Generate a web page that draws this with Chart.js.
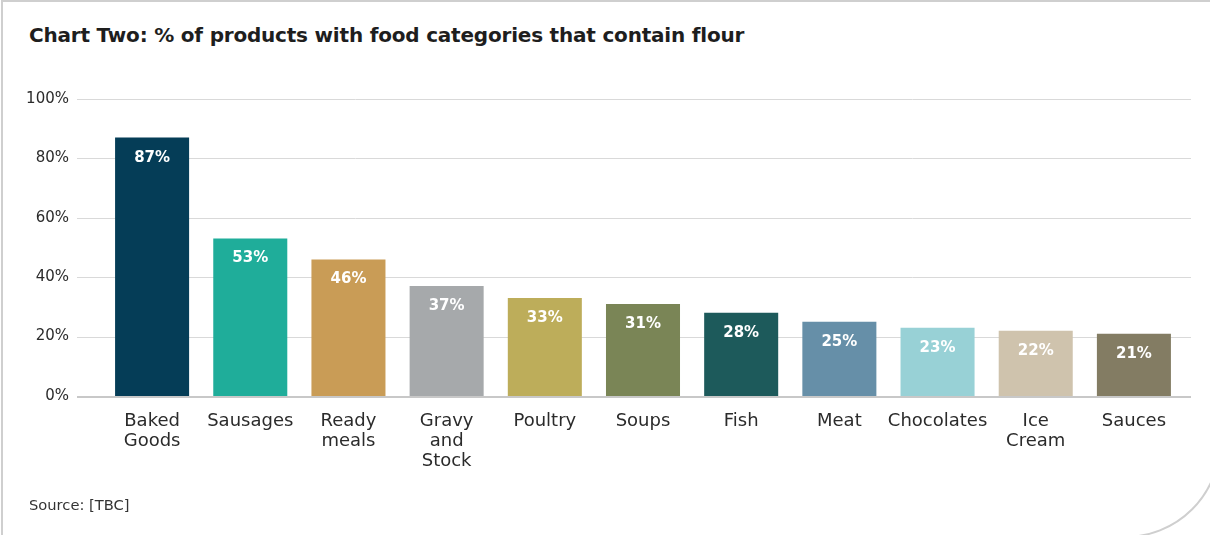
<!DOCTYPE html>
<html>
<head>
<meta charset="utf-8">
<script src="https://cdn.jsdelivr.net/npm/chart.js@4"></script>
<style>
  html, body { margin: 0; padding: 0; background: #fff; overflow: hidden; }
  .page { width: 1210px; height: 535px; position: relative; overflow: hidden; font-family: "DejaVu Sans", sans-serif; }
  .card {
    position: absolute; left: 1px; top: 0; width: 1220px; height: 538px;
    border: 2px solid #cfcfcf; border-radius: 0 0 96px 0; box-sizing: border-box;
  }
  h1 {
    position: absolute; left: 29px; top: 23px; margin: 0;
    font-size: 20px; font-weight: 700; color: #1e1e1e; letter-spacing: -0.2px;
  }
  .source { position: absolute; left: 29px; top: 496px; font-size: 14.7px; color: #333; }
  #wrap { position: absolute; left: 0; top: 0; width: 1210px; height: 535px; }
</style>
</head>
<body>
<div class="page">
  <div class="card"></div>
  <h1>Chart Two: % of products with food categories that contain flour</h1>
  <div id="wrap"><canvas id="chart"></canvas></div>
  <div class="source">Source: [TBC]</div>
</div>
<script>
const categories = [
  ["Baked", "Goods"], "Sausages", ["Ready", "meals"], ["Gravy", "and", "Stock"], "Poultry",
  "Soups", "Fish", "Meat", "Chocolates", ["Ice", "Cream"], "Sauces"
]
const shares = [87, 53, 46, 37, 33, 31, 28, 25, 23, 22, 21]
const barColors = [
  "#053d57", "#1fad9a", "#c99c56", "#a6a9ab", "#bdad5a", "#7a8556",
  "#1d5a5b", "#668fa8", "#98d1d6", "#cfc3ad", "#837c63"
]
const yTicks = [0, 20, 40, 60, 80, 100]

const fontFamily = "'DejaVu Sans', sans-serif"

// horizontal gridlines run a little past the bars on both sides
const gridLines = {
  id: "gridLines",
  beforeDatasetsDraw(chart) {
    const { ctx, scales: { y } } = chart
    ctx.save()
    yTicks.forEach((v) => {
      const py = Math.round(y.getPixelForValue(v))
      ctx.beginPath()
      if (v === 0) {
        ctx.strokeStyle = "#c8c8c8"
        ctx.lineWidth = 2
        ctx.moveTo(77, py + 1)
        ctx.lineTo(1191, py + 1)
      } else {
        ctx.strokeStyle = "#d9d9d9"
        ctx.lineWidth = 1
        ctx.moveTo(77, py + 0.5)
        ctx.lineTo(1191, py + 0.5)
      }
      ctx.stroke()
    })
    ctx.restore()
  },
}

// value labels inside the top of each bar
const barValues = {
  id: "barValues",
  afterDatasetsDraw(chart) {
    const { ctx } = chart
    const meta = chart.getDatasetMeta(0)
    ctx.save()
    ctx.fillStyle = "#ffffff"
    ctx.font = "bold 15px " + fontFamily
    ctx.textAlign = "center"
    ctx.textBaseline = "middle"
    meta.data.forEach((bar, i) => {
      ctx.fillText(shares[i] + "%", bar.x, bar.y + 20)
    })
    ctx.restore()
  },
}

new Chart(document.getElementById("chart"), {
  type: "bar",
  data: {
    labels: categories,
    datasets: [
      {
        data: shares,
        backgroundColor: barColors,
        categoryPercentage: 1,
        barPercentage: 0.754,
      },
    ],
  },
  options: {
    responsive: true,
    maintainAspectRatio: false,
    animation: false,
    layout: { padding: { top: 99, right: 27, left: 0, bottom: 0 } },
    plugins: {
      legend: { display: false },
      tooltip: { enabled: false },
    },
    scales: {
      x: {
        grid: { display: false, drawTicks: false },
        border: { display: false },
        ticks: {
          color: "#2b2b2b",
          font: { family: fontFamily, size: 18, lineHeight: "20px" },
          padding: 15,
          maxRotation: 0,
          autoSkip: false,
        },
        afterFit(scale) { scale.height = 139 },
      },
      y: {
        min: 0,
        max: 100,
        grid: { display: false, drawTicks: false },
        border: { display: false },
        ticks: {
          stepSize: 20,
          color: "#2b2b2b",
          font: { family: fontFamily, size: 15 },
          padding: 34,
          callback: (v) => v + "%",
        },
        afterFit(scale) { scale.width = 103 },
      },
    },
  },
  plugins: [gridLines, barValues],
})
</script>
</body>
</html>
